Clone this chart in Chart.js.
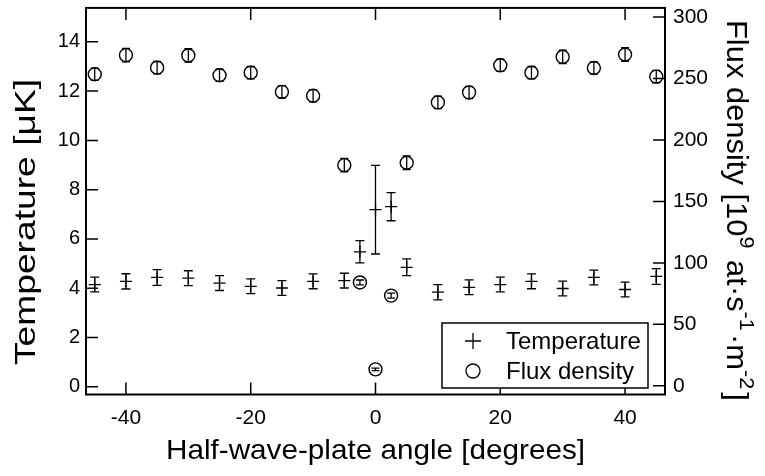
<!DOCTYPE html>
<html>
<head>
<meta charset="utf-8">
<script src="https://cdn.jsdelivr.net/npm/chart.js@4.4.1/dist/chart.umd.min.js"></script>
<style>
  html, body { margin: 0; padding: 0; background: #fff; }
  canvas { display: block; }
</style>
</head>
<body>
<canvas id="chart" width="765" height="476"></canvas>
<script>
// half-wave-plate angle in degrees
const angles = [-45, -40, -35, -30, -25, -20, -15, -10, -5, -2.5, 0, 2.5, 5, 10, 15, 20, 25, 30, 35, 40, 45];
// temperature in uK, with error
const temperature = [4.15, 4.28, 4.44, 4.41, 4.21, 4.08, 4.01, 4.28, 4.31, 5.48, 7.19, 7.31, 4.85, 3.84, 4.04, 4.15, 4.28, 3.99, 4.44, 3.95, 4.48];
const temperatureErr = [0.3, 0.31, 0.32, 0.3, 0.3, 0.3, 0.3, 0.3, 0.3, 0.45, 1.8, 0.57, 0.34, 0.31, 0.3, 0.3, 0.3, 0.3, 0.3, 0.3, 0.32];
// flux density in 10^9 at/s/m^2, with error
const flux = [253.5, 269.1, 258.9, 268.8, 252.7, 254.8, 239.2, 236.0, 179.6, 84.1, 13.4, 73.4, 181.5, 230.6, 238.7, 260.8, 254.8, 267.7, 258.6, 269.6, 251.6];
const fluxErr = [5, 5.5, 5, 5.5, 5, 5, 5, 5, 5.5, 2, 1, 2, 5.5, 5, 5, 5, 5, 5.5, 5, 5.5, 5];

const xTicks = [-40, -20, 0, 20, 40];
const tempTicks = [0, 2, 4, 6, 8, 10, 12, 14];
const fluxTicks = [0, 50, 100, 150, 200, 250, 300];

const FONT = "'Liberation Sans', Arial, Helvetica, sans-serif";
Chart.defaults.font.family = FONT;
Chart.defaults.color = "#000";

function toPoints(ys) {
  return angles.map((a, i) => ({ x: a, y: ys[i] }));
}

// vertical error bars with caps, drawn through the scales
const errorBars = {
  id: "errorBars",
  afterDatasetsDraw(chart) {
    const ctx = chart.ctx;
    const xs = chart.scales.x;
    ctx.save();
    ctx.strokeStyle = "#000";
    ctx.lineWidth = 1.3;
    chart.data.datasets.forEach((ds) => {
      const ys = chart.scales[ds.yAxisID];
      ds.data.forEach((p, i) => {
        const e = ds.errors[i];
        const px = xs.getPixelForValue(p.x);
        const y1 = ys.getPixelForValue(p.y - e);
        const y2 = ys.getPixelForValue(p.y + e);
        const c = ds.capHalf;
        ctx.beginPath();
        ctx.moveTo(px, y1); ctx.lineTo(px, y2);
        ctx.moveTo(px - c, y1); ctx.lineTo(px + c, y1);
        ctx.moveTo(px - c, y2); ctx.lineTo(px + c, y2);
        ctx.stroke();
      });
    });
    ctx.restore();
  }
};

// boxed frame with inward ticks, titles and legend
const frame = {
  id: "frame",
  afterDraw(chart) {
    const ctx = chart.ctx;
    const { left, right, top, bottom } = chart.chartArea;
    const { x, y, y2 } = chart.scales;
    const tl = 12;
    ctx.save();
    ctx.strokeStyle = "#000";
    ctx.lineWidth = 2;
    ctx.strokeRect(left, top, right - left, bottom - top);
    ctx.lineWidth = 1.5;
    ctx.beginPath();
    xTicks.forEach((v) => {
      const p = x.getPixelForValue(v);
      ctx.moveTo(p, bottom); ctx.lineTo(p, bottom - tl);
      ctx.moveTo(p, top); ctx.lineTo(p, top + tl);
    });
    tempTicks.forEach((v) => {
      const p = y.getPixelForValue(v);
      ctx.moveTo(left, p); ctx.lineTo(left + tl, p);
    });
    fluxTicks.forEach((v) => {
      const p = y2.getPixelForValue(v);
      ctx.moveTo(right, p); ctx.lineTo(right - tl, p);
    });
    ctx.stroke();

    // axis titles
    ctx.fillStyle = "#000";
    ctx.textAlign = "center";
    ctx.textBaseline = "alphabetic";
    ctx.save();
    ctx.translate((left + right) / 2, 459);
    ctx.scale(1.06, 1);
    ctx.font = "28px " + FONT;
    ctx.fillText("Half-wave-plate angle [degrees]", 0, 0);
    ctx.restore();

    ctx.save();
    ctx.translate(35, 222);
    ctx.rotate(-Math.PI / 2);
    ctx.scale(1.24, 1);
    ctx.font = "30px " + FONT;
    ctx.fillText("Temperature [\u03bcK]", 0, 0);
    ctx.restore();

    // right title with superscripts
    ctx.save();
    ctx.translate(727, 20);
    ctx.rotate(Math.PI / 2);
    ctx.scale(1.03, 1);
    ctx.textAlign = "left";
    const parts = [
      ["Flux density [10", false], ["9", true], [" at\u00b7s", false],
      ["-1", true], ["\u00b7m", false], ["-2", true], ["]", false]
    ];
    let cx = 0;
    parts.forEach(([t, sup]) => {
      ctx.font = (sup ? "21px " : "30px ") + FONT;
      ctx.fillText(t, cx, sup ? -13 : 0);
      cx += ctx.measureText(t).width + (sup ? 3 : 0);
    });
    ctx.restore();

    // legend
    const bx = 442, by = 323, bw = 206, bh = 65;
    ctx.fillStyle = "#fff";
    ctx.fillRect(bx, by, bw, bh);
    ctx.lineWidth = 1.5;
    ctx.strokeRect(bx, by, bw, bh);
    ctx.fillStyle = "#000";
    ctx.font = "24px " + FONT;
    ctx.textAlign = "left";
    ctx.textBaseline = "middle";
    chart.data.datasets.forEach((ds, i) => {
      const ly = by + 18 + i * 30;
      const sx = bx + 31;
      ctx.lineWidth = 1.3;
      ctx.beginPath();
      if (ds.pointStyle === "cross") {
        ctx.moveTo(sx - 8, ly); ctx.lineTo(sx + 8, ly);
        ctx.moveTo(sx, ly - 8); ctx.lineTo(sx, ly + 8);
      } else {
        ctx.arc(sx, ly, 7, 0, Math.PI * 2);
      }
      ctx.stroke();
      ctx.fillText(ds.label, bx + 64, ly + 1);
    });
    ctx.restore();
  }
};

new Chart(document.getElementById("chart"), {
  type: "scatter",
  data: {
    datasets: [
      {
        label: "Temperature",
        data: toPoints(temperature),
        errors: temperatureErr,
        capHalf: 4.5,
        yAxisID: "y",
        pointStyle: "cross",
        pointRadius: 6,
        borderColor: "#000",
        borderWidth: 1.3,
        backgroundColor: "#000"
      },
      {
        label: "Flux density",
        data: toPoints(flux),
        errors: fluxErr,
        capHalf: 4,
        yAxisID: "y2",
        pointStyle: "circle",
        pointRadius: 6.5,
        borderColor: "#000",
        borderWidth: 1.4,
        backgroundColor: "rgba(0,0,0,0)"
      }
    ]
  },
  options: {
    responsive: false,
    animation: false,
    layout: { padding: { top: 3, left: 0, right: 0, bottom: 0 } },
    plugins: { legend: { display: false }, tooltip: { enabled: false } },
    scales: {
      x: {
        type: "linear",
        min: -46.4,
        max: 46.4,
        grid: { display: false, drawTicks: false },
        border: { display: false },
        ticks: { font: { size: 21 }, padding: 11, maxRotation: 0 },
        afterBuildTicks: (s) => { s.ticks = xTicks.map((v) => ({ value: v })); },
        afterFit: (s) => { s.height = 81.5; s.paddingLeft = 0; s.paddingRight = 0; }
      },
      y: {
        position: "left",
        min: -0.31,
        max: 15.375,
        grid: { display: false, drawTicks: false },
        border: { display: false },
        ticks: { font: { size: 20 }, padding: 6 },
        afterBuildTicks: (s) => { s.ticks = tempTicks.map((v) => ({ value: v })); },
        afterFit: (s) => { s.width = 86; s.paddingTop = 0; s.paddingBottom = 0; }
      },
      y2: {
        position: "right",
        min: -7.07,
        max: 307.5,
        grid: { display: false, drawTicks: false },
        border: { display: false },
        ticks: { font: { size: 21 }, padding: 8 },
        afterBuildTicks: (s) => { s.ticks = fluxTicks.map((v) => ({ value: v })); },
        afterFit: (s) => { s.width = 100; s.paddingTop = 0; s.paddingBottom = 0; }
      }
    }
  },
  plugins: [errorBars, frame]
});
</script>
</body>
</html>
